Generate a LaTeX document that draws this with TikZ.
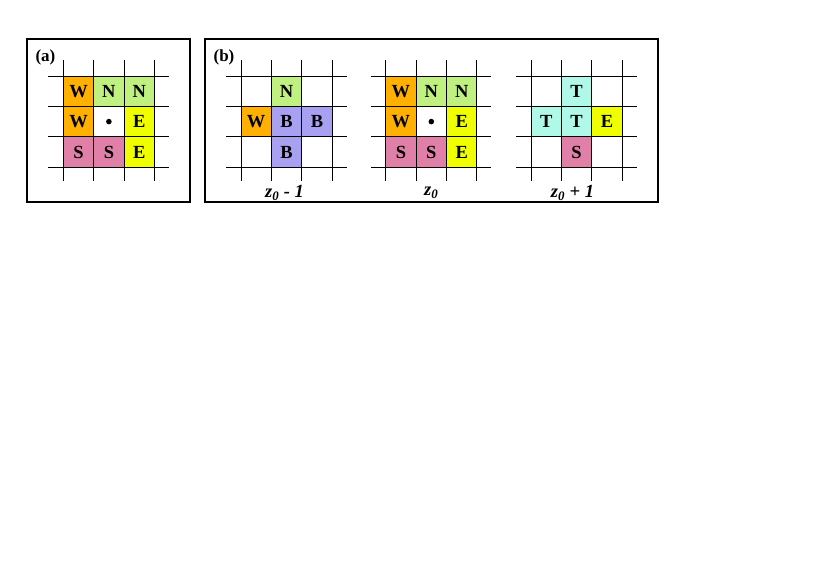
\documentclass[tikz,border=0pt]{standalone}
\usepackage{fontspec}
\setmainfont{Liberation Serif}
\definecolor{cW}{HTML}{FFB000}
\definecolor{cN}{HTML}{C0F080}
\definecolor{cE}{HTML}{F0FF00}
\definecolor{cS}{HTML}{E080A8}
\definecolor{cB}{HTML}{A8A0F0}
\definecolor{cT}{HTML}{B0F8E8}
\begin{document}
\begin{tikzpicture}[x=1pt,y=-1pt,
  cell/.style={minimum size=30.4pt,inner sep=0pt,font=\fontsize{18.5}{18.5}\selectfont\bfseries},
  gline/.style={line width=0.9pt,black},
  frame/.style={line width=1.3pt,black},
  tag/.style={inner sep=0pt,font=\fontsize{17}{17}\selectfont\bfseries},
  zlab/.style={inner sep=0pt,font=\fontsize{18.5}{18.5}\selectfont\bfseries\itshape}]
\useasboundingbox (0,0) rectangle (830,575);
\fill[white] (0,0) rectangle (830,575);
\def\gridlines{%
  \foreach \k in {0,1,2,3} {
    \draw[gline] (-15,{\k*30.4}) -- (105.5,{\k*30.4});
    \draw[gline] ({\k*30.4},-16) -- ({\k*30.4},104.7);
  }}
% frames
\draw[frame] (27,39) rectangle (190,202);
\draw[frame] (205,39) rectangle (658,202);
\node[tag] (la) at (45.5,57) {(a)};
\node[tag] (lb) at (224,57) {(b)};
% grid (a)
\begin{scope}[shift={(63.3,76)}]
  \node[cell,fill=cW] (a11) at (15.2,15.2) {W};
  \node[cell,fill=cN] (a12) at (45.6,15.2) {N};
  \node[cell,fill=cN] (a13) at (76.0,15.2) {N};
  \node[cell,fill=cW] (a21) at (15.2,45.6) {W};
  \node[cell] (a22) at (45.6,45.6) {};
  \fill (a22.center) circle (2.8);
  \node[cell,fill=cE] (a23) at (76.0,45.6) {E};
  \node[cell,fill=cS] (a31) at (15.2,76.0) {S};
  \node[cell,fill=cS] (a32) at (45.6,76.0) {S};
  \node[cell,fill=cE] (a33) at (76.0,76.0) {E};
  \gridlines
\end{scope}
% grid (b) z0-1
\begin{scope}[shift={(241,76)}]
  \node[cell,fill=cN] (b12) at (45.6,15.2) {N};
  \node[cell,fill=cW] (b21) at (15.2,45.6) {W};
  \node[cell,fill=cB] (b22) at (45.6,45.6) {B};
  \node[cell,fill=cB] (b23) at (76.0,45.6) {B};
  \node[cell,fill=cB] (b32) at (45.6,76.0) {B};
  \gridlines
  \node[zlab] (lz1) at (43.5,117) {z\textsubscript{0} - 1};
\end{scope}
% grid (b) z0
\begin{scope}[shift={(385.7,76)}]
  \node[cell,fill=cW] (c11) at (15.2,15.2) {W};
  \node[cell,fill=cN] (c12) at (45.6,15.2) {N};
  \node[cell,fill=cN] (c13) at (76.0,15.2) {N};
  \node[cell,fill=cW] (c21) at (15.2,45.6) {W};
  \node[cell] (c22) at (45.6,45.6) {};
  \fill (c22.center) circle (2.8);
  \node[cell,fill=cE] (c23) at (76.0,45.6) {E};
  \node[cell,fill=cS] (c31) at (15.2,76.0) {S};
  \node[cell,fill=cS] (c32) at (45.6,76.0) {S};
  \node[cell,fill=cE] (c33) at (76.0,76.0) {E};
  \gridlines
  \node[zlab] (lz2) at (45.6,117) {z\textsubscript{0}};
\end{scope}
% grid (b) z0+1
\begin{scope}[shift={(531,76)}]
  \node[cell,fill=cT] (d12) at (45.6,15.2) {T};
  \node[cell,fill=cT] (d21) at (15.2,45.6) {T};
  \node[cell,fill=cT] (d22) at (45.6,45.6) {T};
  \node[cell,fill=cE] (d23) at (76.0,45.6) {E};
  \node[cell,fill=cS] (d32) at (45.6,76.0) {S};
  \gridlines
  \node[zlab] (lz3) at (41.5,117) {z\textsubscript{0} + 1};
\end{scope}
\end{tikzpicture}
\end{document}
